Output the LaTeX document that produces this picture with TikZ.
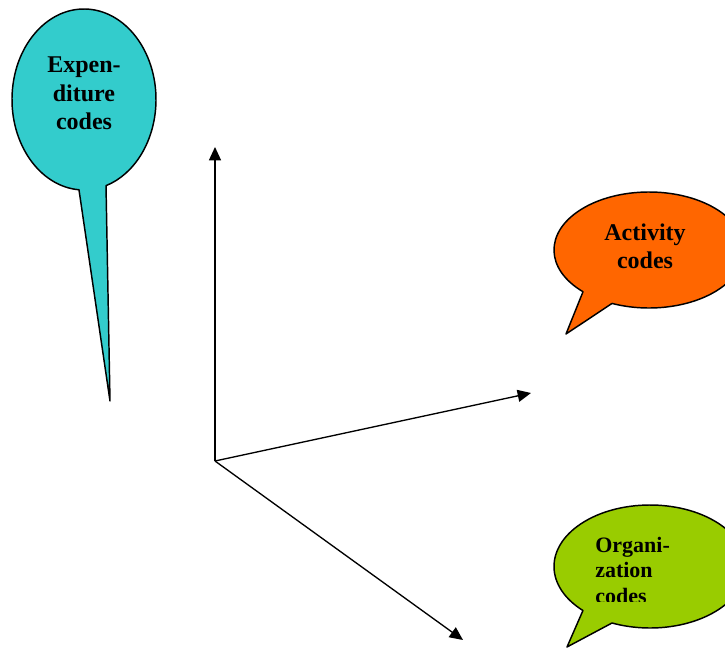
\documentclass[tikz,border=0pt]{standalone}
\usepackage{fontspec}
\setmainfont{Liberation Serif}
\usetikzlibrary{arrows.meta}
\definecolor{expfill}{HTML}{33CCCC}
\definecolor{actfill}{HTML}{FF6600}
\definecolor{orgfill}{HTML}{99CC00}
\begin{document}
\begin{tikzpicture}[x=0.75pt,y=-0.75pt,
  bubble/.style={draw=black, line width=1.1pt, line join=round},
  axis/.style={line width=1pt, -{Triangle[length=10pt,width=9pt]}},
  lbl/.style={font=\bfseries\fontsize{18}{21}\selectfont, inner sep=0pt, anchor=base},
  lblsmall/.style={font=\bfseries\fontsize{16.5}{19}\selectfont, inner sep=0pt, anchor=base west}]
\useasboundingbox (0,0) rectangle (725,649);

% speech bubbles: ellipse outline running round to the pointer
\filldraw[bubble, fill=expfill]
  ({84+72*cos(94)},{99.5+90.5*sin(94)})
  arc[start angle=94, end angle=432.2, x radius=72, y radius=90.5]
  -- (110,401) -- cycle;
\filldraw[bubble, fill=actfill]
  ({649+95*cos(134)},{250+58*sin(134)})
  arc[start angle=134, end angle=472.9, x radius=95, y radius=58]
  -- (566,334) -- cycle;
\filldraw[bubble, fill=orgfill]
  ({650+96*cos(134.3)},{566.5+61.5*sin(134.3)})
  arc[start angle=134.3, end angle=473.3, x radius=96, y radius=61.5]
  -- (567,647) -- cycle;

% bubble texts
\node[lbl] (exp1) at (84,73) {Expen-};
\node[lbl] (exp2) at (84,101.5) {diture};
\node[lbl] (exp3) at (84,130) {codes};
\node[lbl] (act1) at (645,240) {Activity};
\node[lbl] (act2) at (645,268) {codes};
\begin{scope}
  \clip (0,0) rectangle (725,601);
  \node[lblsmall] (org1) at (595,552.5) {Organi-};
  \node[lblsmall] (org2) at (595,577.5) {zation};
  \node[lblsmall] (org3) at (595,603) {codes};
\end{scope}

% axes
\coordinate (O) at (215,461);
\coordinate (up) at (215,147);
\coordinate (right) at (531,393);
\coordinate (down) at (463,640);
\draw[axis] (O) -- (up);
\draw[axis] (O) -- (right);
\draw[axis] (O) -- (down);
\end{tikzpicture}
\end{document}
